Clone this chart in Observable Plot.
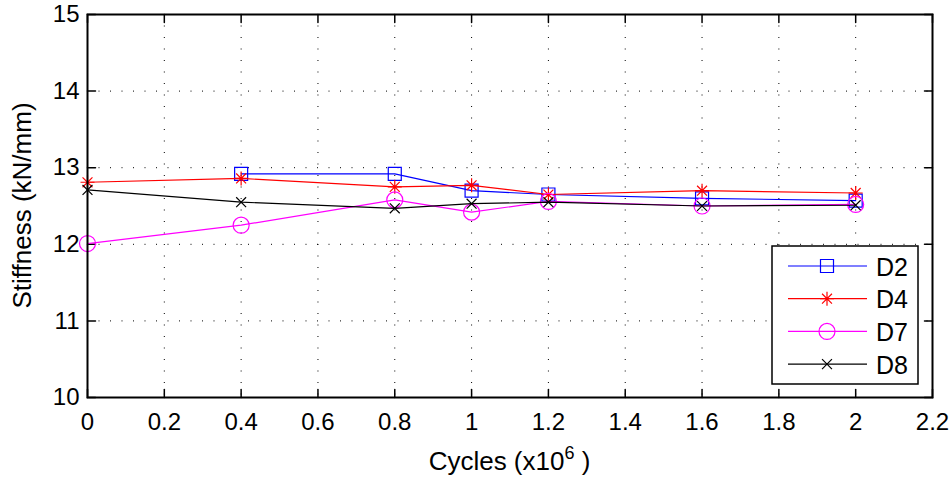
<!DOCTYPE html>
<html>
<head>
<meta charset="utf-8">
<script src="https://cdn.jsdelivr.net/npm/d3@7"></script>
<script src="https://cdn.jsdelivr.net/npm/@observablehq/plot@0.6"></script>
<style>
  body { margin: 0; background: #fff; }
</style>
</head>
<body>
<div id="chart"></div>
<script>
// ---- data ----
const cycles = [0, 0.4, 0.8, 1.0, 1.2, 1.6, 2.0];
const D2 = [null, 12.92, 12.92, 12.70, 12.65, 12.60, 12.57];
const D4 = [12.81, 12.86, 12.75, 12.77, 12.65, 12.70, 12.67];
const D7 = [12.01, 12.25, 12.58, 12.42, 12.56, 12.50, 12.52];
const D8 = [12.71, 12.55, 12.47, 12.53, 12.55, 12.50, 12.51];
const seriesNames = ["D2", "D4", "D7", "D8"];
const seriesValues = [D2, D4, D7, D8];
const xTicks = [0, 0.2, 0.4, 0.6, 0.8, 1, 1.2, 1.4, 1.6, 1.8, 2, 2.2];
const yTicks = [10, 11, 12, 13, 14, 15];
const xLabelMain = "Cycles (x10";
const xLabelSup = "6";
const xLabelEnd = " )";
const yLabel = "Stiffness (kN/mm)";

// ---- styles ----
const FONT = "'Liberation Sans', Arial, sans-serif";
const colors = {D2: "#0000ff", D4: "#ff0000", D7: "#ff00ff", D8: "#000000"};
const symSquare = {draw(c, s) { const r = Math.sqrt(s / Math.PI); c.moveTo(-r, -r); c.lineTo(r, -r); c.lineTo(r, r); c.lineTo(-r, r); c.closePath(); }};
const symStar = {draw(c, s) { const r = Math.sqrt(s / Math.PI); const d = r * 0.7071;
  c.moveTo(0, -r); c.lineTo(0, r); c.moveTo(-r, 0); c.lineTo(r, 0);
  c.moveTo(-d, -d); c.lineTo(d, d); c.moveTo(-d, d); c.lineTo(d, -d); }};
const symTimes = {draw(c, s) { const r = Math.sqrt(s / Math.PI) * 0.7071;
  c.moveTo(-r, -r); c.lineTo(r, r); c.moveTo(-r, r); c.lineTo(r, -r); }};
const symCircle = {draw(c, s) { const r = Math.sqrt(s / Math.PI); c.moveTo(r, 0); c.arc(0, 0, r, 0, 2 * Math.PI); }};
const symbols = {D2: symSquare, D4: symStar, D7: symCircle, D8: symTimes};
const radii = {D2: 6.5, D4: 7, D7: 8, D8: 7};
const tickLine = {draw(c, l) { c.moveTo(0, 0); c.lineTo(0, -l); }};

const rows = [];
seriesNames.forEach((name, i) => {
  cycles.forEach((c, j) => {
    if (seriesValues[i][j] != null) rows.push({series: name, x: c, y: seriesValues[i][j]});
  });
});

const TL = 8;
const marks = [
  Plot.gridX(xTicks, {stroke: "#000", strokeOpacity: 1, strokeWidth: 1, strokeDasharray: "1,10.5"}),
  Plot.gridY(yTicks, {stroke: "#000", strokeOpacity: 1, strokeWidth: 1, strokeDasharray: "1,10.5"}),
  Plot.axisX(xTicks, {anchor: "bottom", tickSize: 0, tickPadding: 15, tickFormat: d => String(d), label: null, fontSize: 24}),
  Plot.axisY(yTicks, {anchor: "left", tickSize: 0, tickPadding: 8, tickFormat: d => String(d), label: null, fontSize: 24}),
  // inward ticks on all four sides
  Plot.vector(xTicks, {x: d => d, frameAnchor: "bottom", length: TL, rotate: 0, anchor: "start", shape: tickLine, stroke: "#000", strokeWidth: 1.5}),
  Plot.vector(xTicks, {x: d => d, frameAnchor: "top", length: TL, rotate: 180, anchor: "start", shape: tickLine, stroke: "#000", strokeWidth: 1.5}),
  Plot.vector(yTicks, {y: d => d, frameAnchor: "left", length: TL, rotate: 90, anchor: "start", shape: tickLine, stroke: "#000", strokeWidth: 1.5}),
  Plot.vector(yTicks, {y: d => d, frameAnchor: "right", length: TL, rotate: -90, anchor: "start", shape: tickLine, stroke: "#000", strokeWidth: 1.5})
];
seriesNames.forEach(name => {
  const d = rows.filter(r => r.series === name);
  marks.push(Plot.line(d, {x: "x", y: "y", stroke: colors[name], strokeWidth: 1.2}));
  marks.push(Plot.dot(d, {x: "x", y: "y", stroke: colors[name], fill: "none", symbol: symbols[name], r: radii[name], strokeWidth: 1.2}));
});
marks.push(Plot.frame({stroke: "#000", strokeWidth: 2}));

const chart = Plot.plot({
  width: 952,
  height: 480,
  marginLeft: 87,
  marginRight: 20,
  marginTop: 14,
  marginBottom: 83,
  style: {fontFamily: FONT, fontSize: "24px", color: "#000", background: "#fff"},
  x: {domain: [0, 2.2]},
  y: {domain: [10, 15]},
  marks
});
document.getElementById("chart").appendChild(chart);

const svg = d3.select(chart);
// ---- axis titles ----
const xt = svg.append("text").attr("x", 509.5).attr("y", 470).attr("text-anchor", "middle")
  .attr("font-family", FONT).attr("font-size", 26).attr("fill", "#000");
xt.append("tspan").text(xLabelMain);
xt.append("tspan").attr("dy", "-11").attr("font-size", 18).text(xLabelSup);
xt.append("tspan").attr("dy", "11").text(xLabelEnd);
svg.append("text").attr("transform", "translate(31,205.5) rotate(-90)").attr("text-anchor", "middle")
  .attr("font-family", FONT).attr("font-size", 26).attr("fill", "#000").text(yLabel);

// ---- legend ----
const lg = svg.append("g").attr("class", "legend");
const bx = 772, by = 246, bw = 146, bh = 138;
lg.append("rect").attr("x", bx).attr("y", by).attr("width", bw).attr("height", bh)
  .attr("fill", "#fff").attr("stroke", "#000").attr("stroke-width", 1.5);
seriesNames.forEach((name, i) => {
  const yy = by + 20 + i * 32.7;
  lg.append("line").attr("x1", bx + 16).attr("x2", bx + 95).attr("y1", yy).attr("y2", yy)
    .attr("stroke", colors[name]).attr("stroke-width", 1.2);
  const p = d3.path();
  symbols[name].draw(p, radii[name] * radii[name] * Math.PI);
  lg.append("path").attr("d", p.toString()).attr("transform", `translate(${bx + 55},${yy})`)
    .attr("stroke", colors[name]).attr("fill", "none").attr("stroke-width", 1.2);
  lg.append("text").attr("x", bx + 104).attr("y", yy + 9.5).attr("text-anchor", "start")
    .attr("font-family", FONT).attr("font-size", 25).attr("fill", "#000").text(name);
});
</script>
</body>
</html>
